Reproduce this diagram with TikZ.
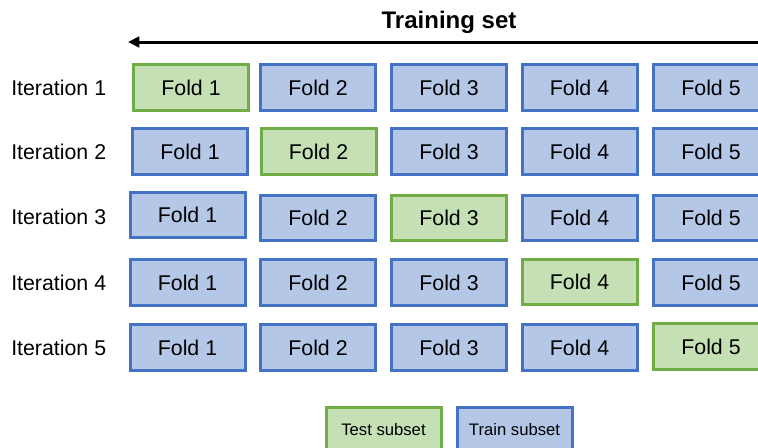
\documentclass[tikz,border=0pt]{standalone}
\usepackage{fontspec}
\setmainfont{Liberation Sans}
\usetikzlibrary{positioning, arrows.meta}
\definecolor{foldBlue}{HTML}{4472C4}
\definecolor{foldBlueSoft}{HTML}{B4C7E7}
\definecolor{foldGreen}{HTML}{70AD47}
\definecolor{foldGreenSoft}{HTML}{C5E0B4}
\begin{document}
\begin{tikzpicture}[
    x=0.75pt, y=-0.75pt,
    trainFold/.style={draw=foldBlue, line width=2.25pt, rectangle, minimum width=86.25pt, minimum height=34pt, inner sep=0pt, fill=foldBlueSoft, font=\fontsize{16pt}{18pt}\selectfont},
    testFold/.style={trainFold, draw=foldGreen, fill=foldGreenSoft},
    iterLabel/.style={anchor=west, inner sep=0pt, font=\fontsize{16pt}{18pt}\selectfont},
    legendBox/.style={font=\fontsize{12.5pt}{15pt}\selectfont},
    >={Triangle[length=8.5pt, width=8pt]},
    line/.style={draw=black, line width=2.25pt},
]
\useasboundingbox (0,0) rectangle (758,447);
\node[font=\bfseries\fontsize{18pt}{21pt}\selectfont] (title) at (449, 22) {Training set};
\coordinate (arrstart) at (780, 42);
\coordinate (arrend)   at (128, 42);
\draw[line, ->] (arrstart) -- (arrend);
% iteration 1
\node[iterLabel] (it1) at (11, 88)  {Iteration 1};
\node[testFold]  (f11) at (191, 87.5) {Fold 1};
\node[trainFold] (f12) at (318, 87.5) {Fold 2};
\node[trainFold] (f13) at (449, 87.5) {Fold 3};
\node[trainFold] (f14) at (579.5, 87.5) {Fold 4};
\node[trainFold] (f15) at (711, 87.5) {Fold 5};
% iteration 2
\node[iterLabel] (it2) at (11, 152)  {Iteration 2};
\node[trainFold] (f21) at (190, 151.5) {Fold 1};
\node[testFold]  (f22) at (318.5, 151.5) {Fold 2};
\node[trainFold] (f23) at (449, 151.5) {Fold 3};
\node[trainFold] (f24) at (579.5, 151.5) {Fold 4};
\node[trainFold] (f25) at (711, 151.5) {Fold 5};
% iteration 3
\node[iterLabel] (it3) at (11, 217)  {Iteration 3};
\node[trainFold] (f31) at (187.5, 215) {Fold 1};
\node[trainFold] (f32) at (318, 218) {Fold 2};
\node[testFold]  (f33) at (449, 218) {Fold 3};
\node[trainFold] (f34) at (579.5, 218) {Fold 4};
\node[trainFold] (f35) at (711, 218) {Fold 5};
% iteration 4
\node[iterLabel] (it4) at (11, 283)  {Iteration 4};
\node[trainFold] (f41) at (187.5, 282.5) {Fold 1};
\node[trainFold] (f42) at (318, 282.5) {Fold 2};
\node[trainFold] (f43) at (449, 282.5) {Fold 3};
\node[testFold]  (f44) at (579.5, 282) {Fold 4};
\node[trainFold] (f45) at (711, 282.5) {Fold 5};
% iteration 5
\node[iterLabel] (it5) at (11, 348)  {Iteration 5};
\node[trainFold] (f51) at (187.5, 347.5) {Fold 1};
\node[trainFold] (f52) at (318, 347.5) {Fold 2};
\node[trainFold] (f53) at (449, 347.5) {Fold 3};
\node[trainFold] (f54) at (579.5, 347.5) {Fold 4};
\node[testFold]  (f55) at (711, 346.5) {Fold 5};
% legend
\node[testFold, legendBox]  (test)  at (383.5, 430) {Test subset};
\node[trainFold, legendBox] (train) at (514.5, 430) {Train subset};
\end{tikzpicture}
\end{document}
